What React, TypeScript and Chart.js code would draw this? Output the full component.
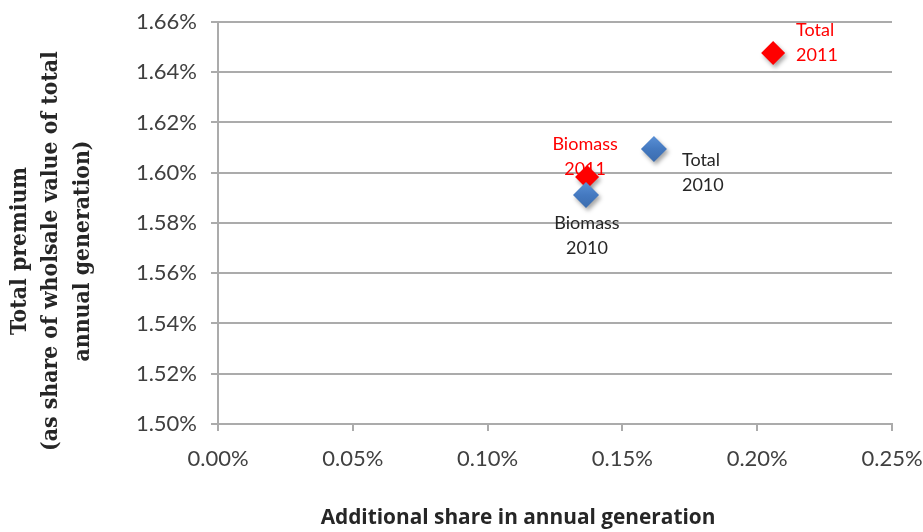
import React, { useEffect, useRef } from "react";
import { Chart, registerables } from "chart.js";

Chart.register(...registerables);

// Points shown: the biomass-only scheme and the total scheme
const pointNames = ["Biomass", "Total"];
const seriesYears = ["2010", "2011"];

// Additional share in annual generation (%)
const share2010 = [0.1365, 0.1617];
const share2011 = [0.1369, 0.2059];

// Total premium as share of wholesale value of annual generation (%)
const premium2010 = [1.5911, 1.6095];
const premium2011 = [1.5983, 1.6477];

// Axis ranges and tick steps (%)
const xTickMin = 0;
const xTickMax = 0.25;
const xTickStep = 0.05;
const yTickMin = 1.5;
const yTickMax = 1.66;
const yTickStep = 0.02;

const yTitleLines = [
  "Total premium",
  "(as share of wholsale value of total",
  "annual generation)",
];
const xTitle = "Additional share in annual generation";

const BLUE = "#4479c0";
const BLUE_LIGHT = "#5a90d6";
const BLUE_DARK = "#3b6cae";
const RED = "#ff0000";
const GRID = "#ababab";
const TICK_TEXT = "#404040";
const LABEL_DARK = "#262626";

const BLUE_RADIUS = 13;
const RED_RADIUS = 12;

// Where each point's two-line label sits relative to its marker
const labelPlacement: Record<string, { dx: number; dy: number; align: CanvasTextAlign }[]> = {
  "2010": [
    { dx: 1, dy: 28, align: "center" },
    { dx: 28, dy: 11, align: "left" },
  ],
  "2011": [
    { dx: -2, dy: -33, align: "center" },
    { dx: 23, dy: -23, align: "left" },
  ],
};

// Pick a font size so that `text` spans `width` pixels in the given face
function fitFont(ctx: CanvasRenderingContext2D, text: string, width: number, weight: string, family: string) {
  ctx.font = `${weight} 100px ${family}`;
  const w = ctx.measureText(text).width;
  const size = (100 * width) / w;
  return `${weight} ${size.toFixed(2)}px ${family}`;
}

// Soft vertical shading for the blue diamonds
function blueFill(c: any) {
  const chart = c.chart;
  if (!c.parsed || !chart.scales || !chart.scales.y) return BLUE;
  const y = chart.scales.y.getPixelForValue(c.parsed.y);
  if (!isFinite(y)) return BLUE;
  const g = chart.ctx.createLinearGradient(0, y - BLUE_RADIUS, 0, y + BLUE_RADIUS);
  g.addColorStop(0, BLUE_LIGHT);
  g.addColorStop(0.5, BLUE);
  g.addColorStop(1, BLUE_DARK);
  return g;
}

const markerShadow = {
  id: "markerShadow",
  beforeDatasetsDraw(chart: Chart) {
    const ctx = chart.ctx;
    ctx.save();
    ctx.shadowColor = "rgba(0,0,0,0.35)";
    ctx.shadowBlur = 4;
    ctx.shadowOffsetX = 2;
    ctx.shadowOffsetY = 3;
  },
  afterDatasetsDraw(chart: Chart) {
    chart.ctx.restore();
  },
};

const pointLabels = {
  id: "pointLabels",
  afterDraw(chart: Chart) {
    const ctx = chart.ctx;
    ctx.save();
    ctx.font = '18px Lato, "Open Sans", sans-serif';
    ctx.textBaseline = "middle";
    chart.data.datasets.forEach((ds: any, di: number) => {
      const year = seriesYears[di];
      const meta = chart.getDatasetMeta(di);
      meta.data.forEach((el: any, i: number) => {
        const p = labelPlacement[year][i];
        ctx.fillStyle = year === "2011" ? RED : LABEL_DARK;
        ctx.textAlign = p.align;
        const lines = [pointNames[i], year];
        lines.forEach((t, li) => {
          ctx.fillText(t, el.x + p.dx, el.y + p.dy + li * 25);
        });
      });
    });
    ctx.restore();
  },
};

const axisTitles = {
  id: "axisTitles",
  afterDraw(chart: Chart) {
    const ctx = chart.ctx;
    ctx.save();
    ctx.fillStyle = "#262626";
    ctx.textAlign = "center";
    ctx.textBaseline = "middle";
    // vertical title, three stacked lines
    ctx.font = fitFont(ctx, yTitleLines[1], 400, "bold", '"DejaVu Serif Condensed", "DejaVu Serif", serif');
    ctx.translate(20, 251);
    ctx.rotate(-Math.PI / 2);
    yTitleLines.forEach((t, i) => ctx.fillText(t, 0, i * 31.5));
    ctx.restore();

    ctx.save();
    ctx.fillStyle = "#262626";
    ctx.textAlign = "center";
    ctx.textBaseline = "middle";
    ctx.font = fitFont(ctx, xTitle, 395, "bold", '"Open Sans", Lato, sans-serif');
    ctx.fillText(xTitle, 518, 518);
    ctx.restore();
  },
};

const pct = (v: number | string) => Number(v).toFixed(2) + "%";

export default function App() {
  const canvasRef = useRef<HTMLCanvasElement | null>(null);

  useEffect(() => {
    if (!canvasRef.current) return;
    const tickFont = { family: 'Lato, "Open Sans", sans-serif', size: 22 };
    const chart = new Chart(canvasRef.current, {
      type: "scatter",
      data: {
        datasets: [
          {
            label: seriesYears[0],
            data: share2010.map((x, i) => ({ x, y: premium2010[i] })),
            backgroundColor: blueFill,
            borderColor: BLUE,
            borderWidth: 0,
            pointStyle: "rectRot",
            pointRadius: BLUE_RADIUS,
            pointHoverRadius: BLUE_RADIUS,
          },
          {
            label: seriesYears[1],
            data: share2011.map((x, i) => ({ x, y: premium2011[i] })),
            backgroundColor: RED,
            borderColor: RED,
            borderWidth: 0,
            pointStyle: "rectRot",
            pointRadius: RED_RADIUS,
            pointHoverRadius: RED_RADIUS,
          },
        ],
      },
      options: {
        responsive: false,
        animation: false,
        events: [],
        layout: { padding: { top: 22, right: 0, bottom: 0, left: 0 } },
        plugins: {
          legend: { display: false },
          tooltip: { enabled: false },
        },
        scales: {
          x: {
            type: "linear",
            min: xTickMin,
            max: xTickMax,
            ticks: {
              stepSize: xTickStep,
              callback: (v: any) => pct(v),
              font: tickFont,
              color: TICK_TEXT,
              padding: 15,
              maxRotation: 0,
            },
            grid: {
              drawOnChartArea: false,
              drawTicks: true,
              tickLength: 7,
              color: GRID,
              lineWidth: 2,
            },
            border: { display: true, color: GRID, width: 2 },
            afterFit: (s: any) => {
              s.height = 108;
              s.paddingLeft = 0;
              s.paddingRight = 31;
            },
          },
          y: {
            type: "linear",
            min: yTickMin,
            max: yTickMax,
            ticks: {
              stepSize: yTickStep,
              callback: (v: any) => pct(v),
              font: tickFont,
              color: TICK_TEXT,
              padding: 14,
            },
            grid: {
              drawOnChartArea: true,
              drawTicks: true,
              tickLength: 7,
              color: GRID,
              lineWidth: 2,
            },
            border: { display: true, color: GRID, width: 2 },
            afterFit: (s: any) => {
              s.width = 218;
              s.paddingTop = 0;
              s.paddingBottom = 0;
            },
          },
        },
      },
      plugins: [markerShadow, pointLabels, axisTitles],
    });
    return () => chart.destroy();
  }, []);

  return (
    <div style={{ position: "absolute", left: 0, top: 0, width: 923, height: 532, background: "#fff" }}>
      <canvas ref={canvasRef} width={923} height={532} style={{ display: "block" }} />
    </div>
  );
}
